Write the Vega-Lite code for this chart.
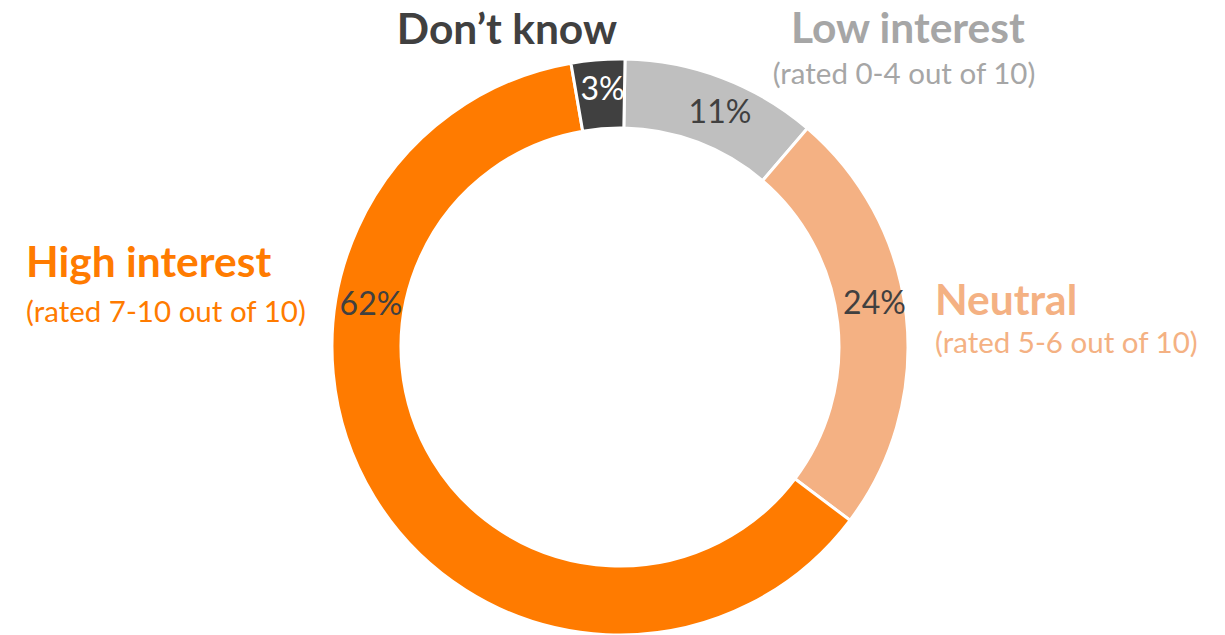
{
  "$schema": "https://vega.github.io/schema/vega-lite/v6.json",
  "width": 1210,
  "height": 576,
  "autosize": {"type": "none"},
  "padding": {"left": 15, "top": 59, "right": 0, "bottom": 0},
  "background": "white",
  "config": {"view": {"stroke": null}, "text": {"font": "Lato"}},
  "data": {
    "values": [
      {"category": "Low interest", "detail": "(rated 0-4 out of 10)", "value": 0.11, "rank": 1},
      {"category": "Neutral", "detail": "(rated 5-6 out of 10)", "value": 0.24, "rank": 2},
      {"category": "High interest", "detail": "(rated 7-10 out of 10)", "value": 0.62, "rank": 3},
      {"category": "Don’t know", "detail": "", "value": 0.03, "rank": 4}
    ]
  },
  "layer": [
    {
      "mark": {"type": "arc", "outerRadius": 288, "innerRadius": 219, "stroke": "white", "strokeWidth": 3},
      "encoding": {
        "theta": {"field": "value", "type": "quantitative", "stack": true, "scale": {"range": [0.01745, 6.30064]}},
        "color": {
          "field": "category",
          "type": "nominal",
          "scale": {
            "domain": ["Low interest", "Neutral", "High interest", "Don’t know"],
            "range": ["#BFBFBF", "#F4B183", "#FF7B00", "#404040"]
          },
          "legend": null
        },
        "order": {"field": "rank", "type": "quantitative"}
      }
    },
    {
      "transform": [{"filter": "datum.rank === 1"}],
      "mark": {"type": "text", "fontSize": 32, "color": "#404040", "align": "center", "baseline": "middle"},
      "encoding": {"theta": {"value": 0.4037}, "radius": {"value": 254.5}, "text": {"field": "value", "format": ".0%"}}
    },
    {
      "transform": [{"filter": "datum.rank === 2"}],
      "mark": {"type": "text", "fontSize": 32, "color": "#404040", "align": "center", "baseline": "middle"},
      "encoding": {"theta": {"value": 1.4034}, "radius": {"value": 258.1}, "text": {"field": "value", "format": ".0%"}}
    },
    {
      "transform": [{"filter": "datum.rank === 3"}],
      "mark": {"type": "text", "fontSize": 32, "color": "#404040", "align": "center", "baseline": "middle"},
      "encoding": {"theta": {"value": 4.8814}, "radius": {"value": 252.6}, "text": {"field": "value", "format": ".0%"}}
    },
    {
      "transform": [{"filter": "datum.rank === 4"}],
      "mark": {"type": "text", "fontSize": 32, "color": "white", "align": "center", "baseline": "middle"},
      "encoding": {"theta": {"value": 6.2152}, "radius": {"value": 257.6}, "text": {"field": "value", "format": ".0%"}}
    },
    {
      "transform": [{"filter": "datum.rank === 4"}],
      "mark": {"type": "text", "fontSize": 42.5, "fontWeight": "bold", "color": "#404040", "align": "center", "baseline": "alphabetic"},
      "encoding": {"theta": {"value": 5.926}, "radius": {"value": 323.4}, "text": {"field": "category"}}
    },
    {
      "transform": [{"filter": "datum.rank === 1"}],
      "mark": {"type": "text", "fontSize": 42.5, "fontWeight": "bold", "color": "#A6A6A6", "align": "center", "baseline": "alphabetic"},
      "encoding": {"theta": {"value": 0.7579}, "radius": {"value": 418.8}, "text": {"field": "category"}}
    },
    {
      "transform": [{"filter": "datum.rank === 1"}],
      "mark": {"type": "text", "fontSize": 29.5, "color": "#A6A6A6", "align": "center", "baseline": "alphabetic"},
      "encoding": {"theta": {"value": 0.8237}, "radius": {"value": 387.1}, "text": {"field": "detail"}}
    },
    {
      "transform": [{"filter": "datum.rank === 2"}],
      "mark": {"type": "text", "fontSize": 42.5, "fontWeight": "bold", "color": "#F4B183", "align": "left", "baseline": "alphabetic"},
      "encoding": {"theta": {"value": 1.4696}, "radius": {"value": 316.6}, "text": {"field": "category"}}
    },
    {
      "transform": [{"filter": "datum.rank === 2"}],
      "mark": {"type": "text", "fontSize": 29.5, "color": "#F4B183", "align": "left", "baseline": "alphabetic"},
      "encoding": {"theta": {"value": 1.5898}, "radius": {"value": 315.1}, "text": {"field": "detail"}}
    },
    {
      "transform": [{"filter": "datum.rank === 3"}],
      "mark": {"type": "text", "fontSize": 42.5, "fontWeight": "bold", "color": "#FF7B00", "align": "left", "baseline": "alphabetic"},
      "encoding": {"theta": {"value": 4.8297}, "radius": {"value": 598.1}, "text": {"field": "category"}}
    },
    {
      "transform": [{"filter": "datum.rank === 3"}],
      "mark": {"type": "text", "fontSize": 29.5, "color": "#FF7B00", "align": "left", "baseline": "alphabetic"},
      "encoding": {"theta": {"value": 4.7545}, "radius": {"value": 594.5}, "text": {"field": "detail"}}
    }
  ]
}
